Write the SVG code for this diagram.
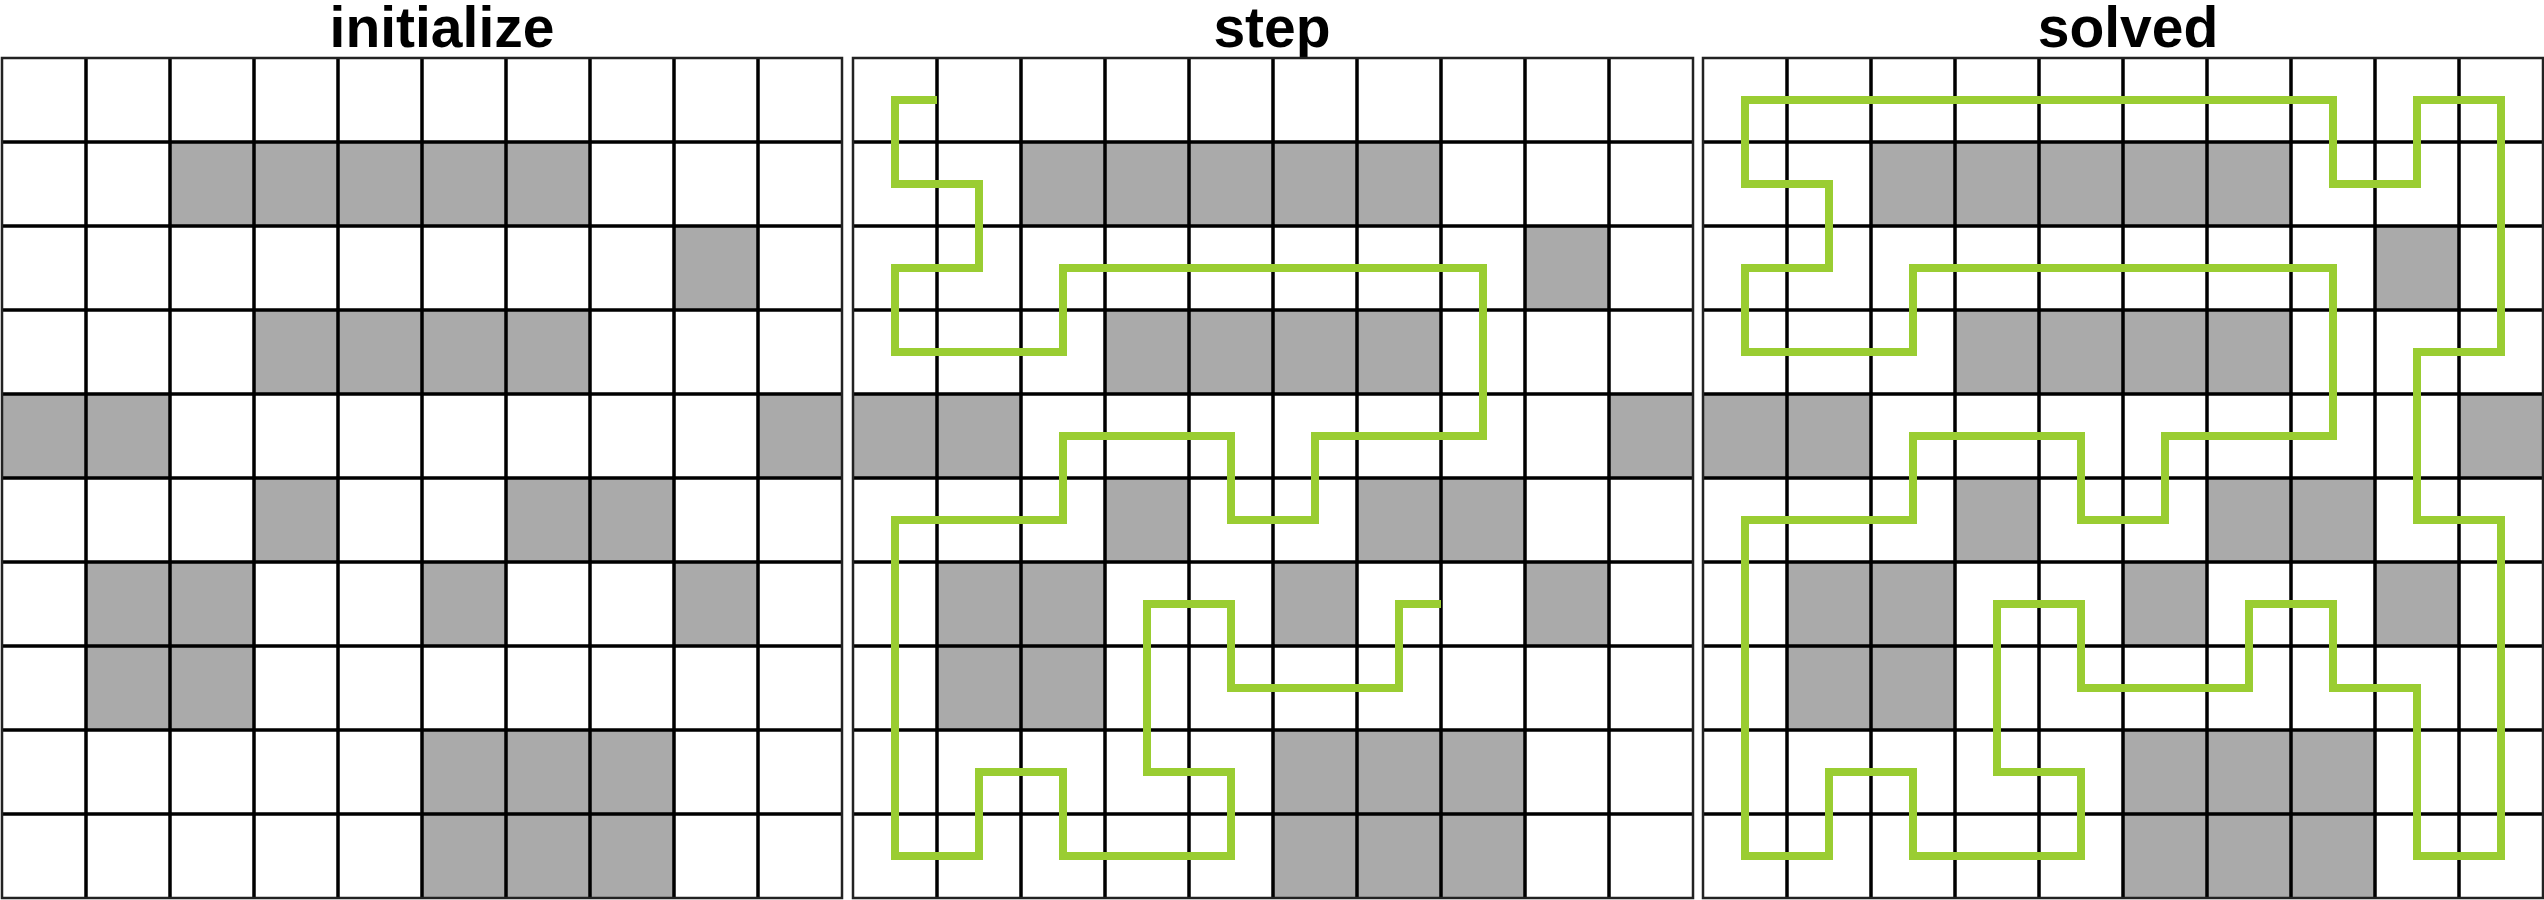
<svg xmlns="http://www.w3.org/2000/svg" xmlns:xlink="http://www.w3.org/1999/xlink" width="2544" height="900" viewBox="0 0 2544 900">
  <style>
    .title { font-family: "Liberation Sans", Arial, sans-serif; font-weight: bold; font-size: 57px; fill: #000; text-anchor: middle; }
    .bg { fill: #fff; }
    .block { fill: #aaaaaa; }
    .lines { fill: none; stroke: #000; stroke-width: 3.5; }
    .border { fill: none; stroke: #222; stroke-width: 2.5; }
    .route { fill: none; stroke: #9acd32; stroke-width: 8; stroke-linejoin: miter; stroke-linecap: butt; }
  </style>
  <defs>
    <g id="board">
      <rect class="bg" x="0" y="0" width="840" height="840"/>
      <path class="block" d="M168,84h420v84h-420z M672,168h84v84h-84z M252,252h336v84h-336z M0,336h168v84h-168z M756,336h84v84h-84z M252,420h84v84h-84z M504,420h168v84h-168z M84,504h168v168h-168z M420,504h84v84h-84z M672,504h84v84h-84z M420,672h252v168h-252z"/>
      <path class="lines" d="M84,0V840 M168,0V840 M252,0V840 M336,0V840 M420,0V840 M504,0V840 M588,0V840 M672,0V840 M756,0V840 M0,84H840 M0,168H840 M0,252H840 M0,336H840 M0,420H840 M0,504H840 M0,588H840 M0,672H840 M0,756H840"/>
      <rect class="border" x="0" y="0" width="840" height="840"/>
    </g>
  </defs>

  <g id="panel-initialize">
    <text class="title" x="442" y="47">initialize</text>
    <use xlink:href="#board" href="#board" transform="translate(2,58)"/>
  </g>

  <g id="panel-step">
    <text class="title" x="1272" y="47">step</text>
    <use xlink:href="#board" href="#board" transform="translate(853,58)"/>
  </g>

  <g id="panel-solved">
    <text class="title" x="2128" y="47">solved</text>
    <use xlink:href="#board" href="#board" transform="translate(1703,58)"/>
  </g>

  <g id="connectors">
    <path id="step-route" class="route" transform="translate(853,58)" d="M84,42 H42 V126 H126 V210 H42 V294 H210 V210 H630 V378 H462 V462 H378 V378 H210 V462 H42 V798 H126 V714 H210 V798 H378 V714 H294 V546 H378 V630 H546 V546 H588"/>
    <path id="solved-route" class="route" transform="translate(1703,58)" d="M42,42 H630 V126 H714 V42 H798 V294 H714 V462 H798 V798 H714 V630 H630 V546 H546 V630 H378 V546 H294 V714 H378 V798 H210 V714 H126 V798 H42 V462 H210 V378 H378 V462 H462 V378 H630 V210 H210 V294 H42 V210 H126 V126 H42 Z"/>
  </g>
</svg>
